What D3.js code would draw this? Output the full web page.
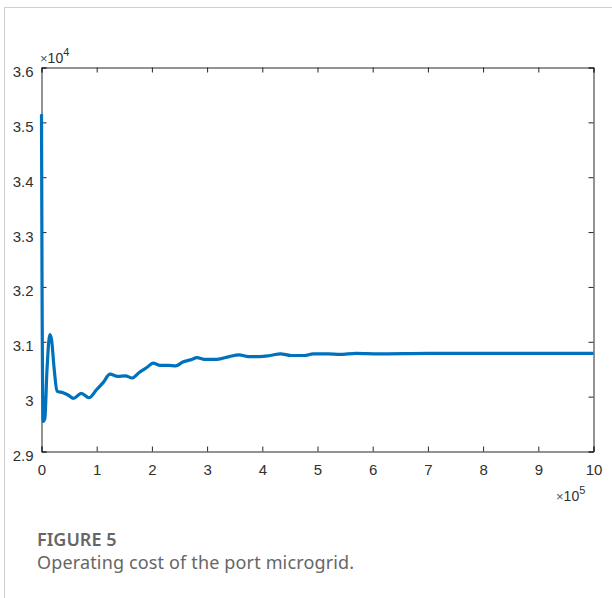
<!DOCTYPE html>
<html>
<head>
<meta charset="utf-8">
<script src="https://cdn.jsdelivr.net/npm/d3@7"></script>
<style>
  html, body { margin: 0; padding: 0; background: #fff; }
  svg { display: block; }
</style>
</head>
<body>
<div id="chart"></div>
<script>
"use strict";

// Iterations (x 10^5) and operating cost (x 10^4)
const iterations = [0, 0.01, 0.03, 0.06, 0.1, 0.15, 0.18, 0.23, 0.28, 0.39, 0.48, 0.58, 0.72, 0.86, 1.0, 1.12,
  1.24, 1.38, 1.52, 1.64, 1.77, 1.92, 2.02, 2.15, 2.3, 2.43, 2.56, 2.7, 2.82, 2.95, 3.18, 3.4, 3.58, 3.75,
  3.95, 4.14, 4.33, 4.52, 4.76, 4.92, 5.2, 5.4, 5.7, 6.1, 7.0, 8.0, 9.0, 10];
const cost = [3.515, 3.2, 2.955, 2.96, 3.05, 3.113, 3.105, 3.05, 3.01, 3.007, 3.003, 2.997, 3.006, 2.998, 3.013, 3.026,
  3.041, 3.037, 3.038, 3.034, 3.044, 3.054, 3.061, 3.057, 3.057, 3.056, 3.063, 3.067, 3.071, 3.068, 3.068, 3.073, 3.076, 3.073,
  3.073, 3.075, 3.078, 3.075, 3.075, 3.078, 3.078, 3.077, 3.079, 3.078, 3.079, 3.079, 3.079, 3.079];

const xTicks = [0, 1, 2, 3, 4, 5, 6, 7, 8, 9, 10];
const yTicks = [2.9, 3, 3.1, 3.2, 3.3, 3.4, 3.5, 3.6];

const figLabel = "FIGURE 5";
const figCaption = "Operating cost of the port microgrid.";

// Dimensions
const w = 612;
const h = 598;
const plot = { left: 41.5, right: 593.5, top: 67.5, bottom: 451.5 };
const axisColor = "#262626";
const tickLen = 5;

const svg = d3.select("#chart").append("svg").attr("width", w).attr("height", h);

// Card frame
svg.append("path")
  .attr("d", `M4.5,${h} V7.5 H${w}`)
  .attr("fill", "none")
  .attr("stroke", "#cfcfcf")
  .attr("stroke-width", 1);

const x = d3.scaleLinear().domain([0, 10]).range([plot.left, plot.right]);
const y = d3.scaleLinear().domain([2.9, 3.6]).range([plot.bottom, plot.top]);

const fontTick = "'Liberation Sans', Arial, Helvetica, sans-serif";

// Axes (ticks point inward, like MATLAB)
const xAxis = d3.axisBottom(x).tickValues(xTicks).tickSize(-tickLen).tickPadding(13).tickFormat(d3.format("d"));
const yAxis = d3.axisLeft(y).tickValues(yTicks).tickSize(-tickLen).tickPadding(8).tickFormat((d) => String(+d.toFixed(1)));
const xTop = d3.axisTop(x).tickValues(xTicks).tickSize(-tickLen).tickFormat("");
const yRight = d3.axisRight(y).tickValues(yTicks).tickSize(-tickLen).tickFormat("");

const styleAxis = (g) => {
  g.attr("font-family", fontTick).attr("font-size", 15);
  g.select(".domain").attr("stroke", axisColor);
  g.selectAll(".tick line").attr("stroke", axisColor);
  g.selectAll(".tick text").attr("fill", "#303030");
};

svg.append("g").attr("transform", `translate(0,${plot.bottom})`).call(xAxis).call(styleAxis);
svg.append("g").attr("transform", `translate(${plot.left},0)`).call(yAxis).call(styleAxis)
  .selectAll(".tick text").attr("dy", "0.6em");
svg.append("g").attr("transform", `translate(0,${plot.top})`).call(xTop).call(styleAxis);
svg.append("g").attr("transform", `translate(${plot.right},0)`).call(yRight).call(styleAxis);

// Data line
const data = iterations.map((d, i) => ({ x: d, y: cost[i] }));
const line = d3.line().x((d) => x(d.x)).y((d) => y(d.y)).curve(d3.curveMonotoneX);

svg.append("path")
  .datum(data)
  .attr("fill", "none")
  .attr("stroke", "#0072BD")
  .attr("stroke-width", 3.2)
  .attr("stroke-linejoin", "round")
  .attr("d", line);

// Exponent labels
const expLabel = (tx, ty, p) => {
  const t = svg.append("text")
    .attr("x", tx)
    .attr("y", ty)
    .attr("fill", "#303030")
    .style("font-family", fontTick)
    .style("font-size", "14px");
  t.append("tspan").text("\u00d7").style("font-size", "13px").style("fill", "#555");
  t.append("tspan").text("10");
  t.append("tspan").attr("dy", -7).style("font-size", "11px").text(p);
};
expLabel(40, 63, "4");
expLabel(556, 501, "5");

// Caption
const fontCap = "'Noto Sans', 'Open Sans', sans-serif";
svg.append("text")
  .attr("x", 37)
  .attr("y", 546)
  .attr("fill", "#666")
  .style("font-family", fontCap)
  .style("font-size", "18px")
  .style("font-weight", 600)
  .text(figLabel);
svg.append("text")
  .attr("x", 37)
  .attr("y", 569)
  .attr("fill", "#666")
  .style("font-family", fontCap)
  .style("font-size", "18px")
  .style("letter-spacing", "0.15px")
  .text(figCaption);
</script>
</body>
</html>
